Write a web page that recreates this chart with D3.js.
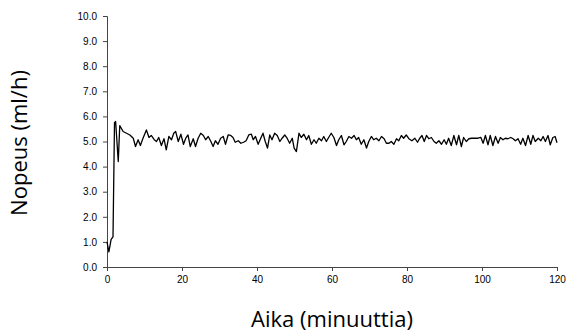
<!DOCTYPE html>
<html>
<head>
<meta charset="utf-8">
<script src="https://cdn.jsdelivr.net/npm/d3@7"></script>
<style>
  body { margin: 0; background: #fff; }
  .tick text { font-family: "Liberation Sans", Arial, sans-serif; font-size: 10px; fill: #000; }
  .axis-title { font-family: "Open Sans", "Noto Sans", sans-serif; font-size: 22px; fill: #000; }
</style>
</head>
<body>
<div class="chart"></div>
<script>
// time in minutes
var times = [0, 0.5, 1.1, 1.6, 2.0, 2.3, 3.0, 3.4, 4.3, 5.2, 6.1, 7.0, 7.6, 8.3, 8.9, 9.6, 10.5, 11.2, 11.8, 12.6, 13.2, 13.8, 14.5, 15.2, 15.8, 16.5, 17.2, 17.8, 18.3, 19.0, 19.7, 20.4, 21.0, 21.6, 22.2, 23.0, 23.6, 24.3, 25.0, 25.7, 26.3, 27.0, 27.7, 28.3, 28.9, 29.6, 30.3, 31.0, 31.6, 32.3, 33.0, 33.6, 34.2, 35.0, 35.7, 36.4, 37.1, 37.8, 38.5, 39.0, 39.6, 40.3,
  41.0, 41.6, 42.2, 42.8, 43.4, 44.0, 44.7, 45.4, 46.1, 46.7, 47.4, 48.1, 48.7, 49.4, 49.9, 50.5, 51.2, 51.8, 52.5, 53.2, 53.8, 54.5, 55.2, 55.8, 56.5, 57.2, 57.8, 58.5, 59.1, 59.8, 60.5, 61.2, 61.8, 62.5, 63.2, 63.8, 64.5, 65.2, 65.9, 66.5, 67.1, 67.8, 68.5, 69.2, 69.8, 70.5, 71.1, 71.8, 72.5, 73.2, 73.9, 74.5, 75.2, 75.8, 76.5, 77.2, 77.8, 78.5, 79.1, 79.8,
  80.5, 81.3, 82.1, 82.8, 83.4, 84.0, 84.6, 85.2, 85.8, 86.5, 87.2, 87.8, 88.5, 89.2, 89.9, 90.5, 91.1, 91.8, 92.5, 93.2, 93.8, 94.5, 95.1, 95.8, 96.5, 97.2, 98.1, 98.9, 99.7, 100.3, 100.9, 101.6, 102.2, 102.9, 103.6, 104.3, 104.9, 105.6, 106.2, 106.9, 107.7, 108.3, 108.9, 109.6, 110.3, 110.9, 111.6, 112.3, 113.0, 113.6, 114.2, 115.0, 115.7, 116.3, 116.9, 117.6, 118.2, 118.9, 119.5, 120];
// rate in ml/h
var rates = [1.0, 0.6, 1.1, 1.2, 5.75, 5.8, 4.2, 5.63, 5.40, 5.33, 5.26, 5.13, 4.80, 5.07, 4.84, 5.13, 5.46, 5.16, 5.24, 5.07, 5.0, 5.16, 4.84, 5.11, 4.67, 5.2, 5.07, 5.33, 5.4, 5.0, 5.29, 4.89, 5.13, 5.26, 4.8, 5.11, 4.8, 5.13, 5.33, 5.24, 5.07, 5.2, 5.0, 4.8, 5.03, 4.89, 5.13, 5.2, 4.89, 5.26, 5.24, 5.16, 4.97, 5.03, 4.93, 4.97, 5.03, 5.26, 5.29, 5.07, 5.2, 4.89,
  5.13, 5.33, 5.0, 4.74, 5.26, 5.07, 5.33, 5.24, 5.0, 5.13, 5.26, 5.11, 4.93, 5.13, 4.74, 4.6, 5.33, 5.16, 5.29, 5.07, 5.24, 4.89, 5.07, 4.93, 5.13, 5.03, 5.2, 5.0, 5.16, 5.33, 5.16, 4.84, 5.07, 5.24, 4.87, 5.0, 5.2, 5.13, 5.24, 5.07, 5.16, 4.89, 5.07, 4.74, 5.0, 5.2, 5.07, 5.13, 5.03, 5.2, 5.11, 4.93, 4.93, 5.0, 4.89, 5.11, 5.03, 5.24, 5.13, 5.26,
  5.11, 5.03, 5.13, 4.97, 5.13, 5.24, 5.0, 5.24, 5.11, 5.16, 5.0, 4.93, 5.03, 4.89, 5.07, 4.89, 5.13, 4.84, 5.24, 4.87, 5.24, 4.8, 5.16, 5.0, 5.11, 5.13, 5.13, 5.13, 5.16, 4.93, 5.24, 4.87, 5.24, 4.84, 5.2, 4.93, 5.16, 5.07, 5.13, 5.11, 5.16, 5.11, 5.03, 5.11, 4.89, 5.13, 4.84, 5.24, 4.89, 5.24, 5.0, 5.13, 5.03, 5.2, 5.0, 5.24, 4.87, 5.16, 5.2, 4.95];

var xTicks = [0, 20, 40, 60, 80, 100, 120];
var yTicks = [0, 1, 2, 3, 4, 5, 6, 7, 8, 9, 10];

var width = 568, height = 333;
var margin = {top: 16, right: 11, bottom: 66, left: 107};

var svg = d3.select(".chart").append("svg")
    .attr("width", width)
    .attr("height", height);

var x = d3.scaleLinear().domain([0, 120]).range([margin.left, width - margin.right]);
var y = d3.scaleLinear().domain([0, 10]).range([height - margin.bottom, margin.top]);

// y axis
var yAxis = svg.append("g")
    .attr("transform", "translate(" + margin.left + ",0)")
    .call(d3.axisLeft(y).tickValues(yTicks).tickSize(4).tickPadding(6).tickFormat(d3.format(".1f")));
yAxis.select(".domain").attr("stroke", "#444");
yAxis.selectAll(".tick line").attr("stroke", "#444");

// x axis
var xAxis = svg.append("g")
    .attr("transform", "translate(0," + (height - margin.bottom) + ")")
    .call(d3.axisBottom(x).tickValues(xTicks).tickSize(4).tickPadding(5).tickSizeOuter(4));
xAxis.select(".domain").attr("stroke", "#444");
xAxis.selectAll(".tick line").attr("stroke", "#444");

// the line
var data = times.map(function(t, i) { return {t: t, v: rates[i]}; });
svg.append("path")
    .datum(data)
    .attr("fill", "none")
    .attr("stroke", "#000")
    .attr("stroke-width", 1.3)
    .attr("stroke-linejoin", "round")
    .attr("d", d3.line().x(function(d) { return x(d.t); }).y(function(d) { return y(d.v); }));

// titles
svg.append("text")
    .attr("class", "axis-title")
    .attr("x", (x(0) + x(120)) / 2)
    .attr("y", 327)
    .attr("text-anchor", "middle")
    .text("Aika (minuuttia)");

svg.append("text")
    .attr("class", "axis-title")
    .attr("transform", "translate(27,143) rotate(-90)")
    .attr("text-anchor", "middle")
    .text("Nopeus (ml/h)");
</script>
</body>
</html>
